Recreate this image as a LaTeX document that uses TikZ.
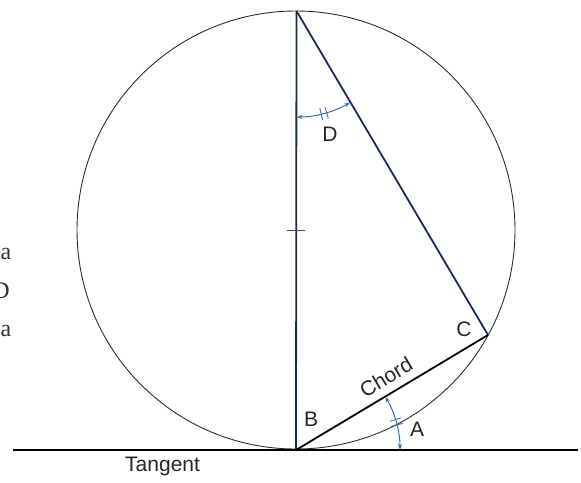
\documentclass[tikz,border=0pt]{standalone}
\usepackage{fontspec}
\setmainfont{Liberation Serif}
\newfontfamily\labfont{Liberation Sans}
\usetikzlibrary{arrows.meta}
\definecolor{navy}{HTML}{1C2A5C}
\definecolor{arrblue}{HTML}{3E6EA8}
\definecolor{tickcol}{HTML}{5A4060}
\definecolor{circcol}{HTML}{2E2E2E}
\tikzset{
  x=1pt,y=1pt,
  lab/.style={font=\labfont\fontsize{21}{22}\selectfont, inner sep=0pt, text=black!85},
  stray/.style={font=\fontsize{24}{25}\selectfont, inner sep=0pt, text=black!80},
  navyline/.style={draw=navy, line width=1.8pt},
  chordline/.style={draw=black, line width=1.8pt},
  circline/.style={draw=circcol, line width=0.9pt},
  tangline/.style={draw=black, line width=2pt},
  anglearrow/.style={draw=arrblue, line width=1pt, {Stealth[length=6pt,width=4pt]}-{Stealth[length=6pt,width=4pt]}},
  tickmark/.style={draw=arrblue, line width=0.9pt},
}
\begin{document}
\begin{tikzpicture}
\useasboundingbox (0,0) rectangle (581,-482);
% key points
\coordinate (O) at (296,-230);
\coordinate (T) at (296.5,-11);
\coordinate (B) at (296,-450);
\coordinate (C) at (488,-335);
\coordinate (TL) at (13,-450);
\coordinate (TR) at (578,-450);
% circle
\draw[circline] (O) circle[radius=219];
% tangent
\draw[tangline] (TL) -- (TR);
% diameter and line to C
\draw[navyline] (T) -- (B);
\draw[navyline] (T) -- (C);
% chord
\draw[chordline] (B) -- (C);
% centre tick
\draw[draw=tickcol, line width=1pt] ([xshift=-9pt]O) -- ([xshift=9pt]O);
% angle D
\draw[anglearrow] ([shift={(-90:106)}]T) arc[start angle=-90, end angle=-59.6, radius=106];
\draw[tickmark] ([shift={(-76.5:100)}]T) -- ([shift={(-76.5:112)}]T);
\draw[tickmark] ([shift={(-73.5:100)}]T) -- ([shift={(-73.5:112)}]T);
% angle A
\draw[anglearrow] ([shift={(0:104)}]B) arc[start angle=0, end angle=30.9, radius=104];
\draw[tickmark] ([shift={(14:98)}]B) -- ([shift={(14:110)}]B);
\draw[tickmark] ([shift={(17:98)}]B) -- ([shift={(17:110)}]B);
% labels
\node[lab] (lD) at (330,-134) {D};
\node[lab] (lB) at (311,-419) {B};
\node[lab] (lC) at (464,-329) {C};
\node[lab] (lA) at (417,-429) {A};
\node[lab, rotate=30.9] (lChord) at (386,-377) {Chord};
\node[lab, anchor=base west] (lTan) at (125,-471) {Tangent};
% stray fragments at the left edge
\node[stray] (s1) at (6,-254) {a};
\node[stray] (s2) at (1,-291) {D};
\node[stray] (s3) at (6,-331) {a};
\end{tikzpicture}
\end{document}
